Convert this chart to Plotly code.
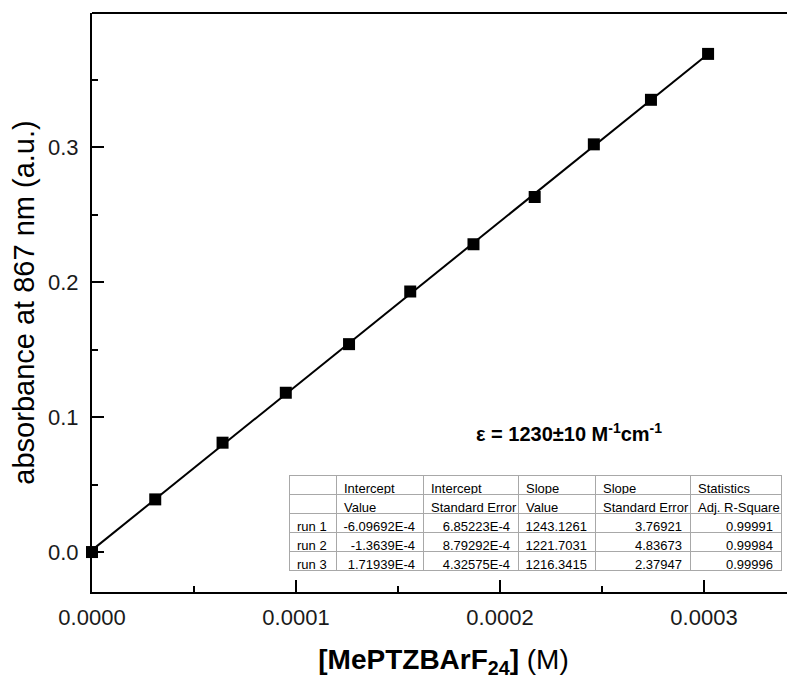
import numpy as np
import plotly.graph_objects as go

# Data
conc_M = [0.0, 3.1e-5, 6.4e-5, 9.5e-5, 1.26e-4, 1.56e-4, 1.87e-4, 2.17e-4, 2.46e-4, 2.74e-4, 3.02e-4]
absorb = [0.0, 0.039, 0.081, 0.118, 0.154, 0.193, 0.228, 0.263, 0.302, 0.335, 0.369]

x_ticks = [0.0, 0.0001, 0.0002, 0.0003]
y_ticks = [0.0, 0.1, 0.2, 0.3]

table_head1 = ["", "Intercept", "Intercept", "Slope", "Slope", "Statistics"]
table_head2 = ["", "Value", "Standard Error", "Value", "Standard Error", "Adj. R-Square"]
runs = ["run 1", "run 2", "run 3"]
intercept_val = ["-6.09692E-4", "-1.3639E-4", "1.71939E-4"]
intercept_err = ["6.85223E-4", "8.79292E-4", "4.32575E-4"]
slope_val = ["1243.1261", "1221.7031", "1216.3415"]
slope_err = ["3.76921", "4.83673", "2.37947"]
adj_r2 = ["0.99991", "0.99984", "0.99996"]

FONT = "Liberation Sans, Arial, sans-serif"
OFF = 8                         # page body margin of the html page
W, H = 795 - OFF, 681 - OFF
L, T, B = 92 - OFF, 13 - OFF, 592 - OFF   # plot area edges (figure pixels)
PW, PH = W - L, B - T


def nb(s):
    # keep table texts on one line
    return s.replace(" ", "\u00a0")


# linear fit line
coef = np.polyfit(conc_M, absorb, 1)
fit_x = np.array([min(conc_M), max(conc_M)])
fit_y = np.polyval(coef, fit_x)

fig = go.Figure()
fig.add_trace(go.Scatter(x=fit_x, y=fit_y, mode="lines",
                         line=dict(color="black", width=2), showlegend=False))
fig.add_trace(go.Scatter(x=conc_M, y=absorb, mode="markers",
                         marker=dict(symbol="square", size=12, color="black"),
                         showlegend=False, cliponaxis=False))

# table placement (page pixels of the reference)
tb_l, tb_r, tb_t, tb_b = 289, 781, 475, 576
col_w = [47, 87, 95, 77, 95, 91]
cell_cols = [runs, intercept_val, intercept_err, slope_val, slope_err, adj_r2]
fig.add_trace(go.Table(
    domain=dict(x=[(tb_l - 92) / PW, (tb_r - 92) / PW], y=[(592 - tb_b) / PH, (592 - tb_t) / PH]),
    columnwidth=col_w,
    header=dict(values=[[nb(a), nb(b)] for a, b in zip(table_head1, table_head2)],
                align="left", height=19,
                font=dict(family=FONT, size=13, color="black"),
                fill=dict(color="white"), line=dict(color="#a8a8a8", width=1)),
    cells=dict(values=[[nb(v) for v in col] for col in cell_cols],
               align=["left", "right", "right", "right", "right", "right"], height=19,
               font=dict(family=FONT, size=13, color="black"),
               fill=dict(color="white"), line=dict(color="#a8a8a8", width=1)),
))

fig.update_layout(
    width=W, height=H,
    margin=dict(l=L, r=0, t=T, b=H - B, autoexpand=False),
    plot_bgcolor="white", paper_bgcolor="white",
    font=dict(family=FONT, color="black"),
    xaxis=dict(range=[0, PW / 2040000.0], tickvals=x_ticks, tickformat=".4f",
               ticks="inside", ticklen=12, tickwidth=1.5, tickcolor="black",
               minor=dict(dtick=0.00005, ticks="inside", ticklen=6, tickwidth=1.5, tickcolor="black"),
               showline=True, linewidth=2, linecolor="black", showgrid=False, zeroline=False,
               tickfont=dict(size=22, color="#1a1a1a"), ticklabelstandoff=5, automargin=False,
               title=dict(text="<b>[MePTZBArF<sub>24</sub>]</b> (M)", font=dict(size=28), standoff=20)),
    yaxis=dict(range=[-0.0296, 0.3993], tickvals=y_ticks, tickformat=".1f",
               ticks="inside", ticklen=12, tickwidth=1.5, tickcolor="black",
               minor=dict(dtick=0.05, ticks="inside", ticklen=6, tickwidth=1.5, tickcolor="black"),
               showline=True, linewidth=2, linecolor="black", showgrid=False, zeroline=False,
               tickfont=dict(size=22, color="#1a1a1a"), ticklabelstandoff=7, automargin=False,
               title=dict(text="absorbance at 867 nm (a.u.)", font=dict(size=29), standoff=12)),
    annotations=[dict(text="<b>ε = 1230±10 M<sup>-1</sup>cm<sup>-1</sup></b>",
                      x=(569 - 92) / PW, y=(592 - 432) / PH, xref="x domain", yref="y domain",
                      xanchor="center", yanchor="middle",
                      showarrow=False, font=dict(size=20))],
    shapes=[dict(type="line", xref="paper", yref="paper", x0=0, x1=1, y0=1, y1=1,
                 line=dict(color="black", width=2))],
)

fig.write_html("out.html")
